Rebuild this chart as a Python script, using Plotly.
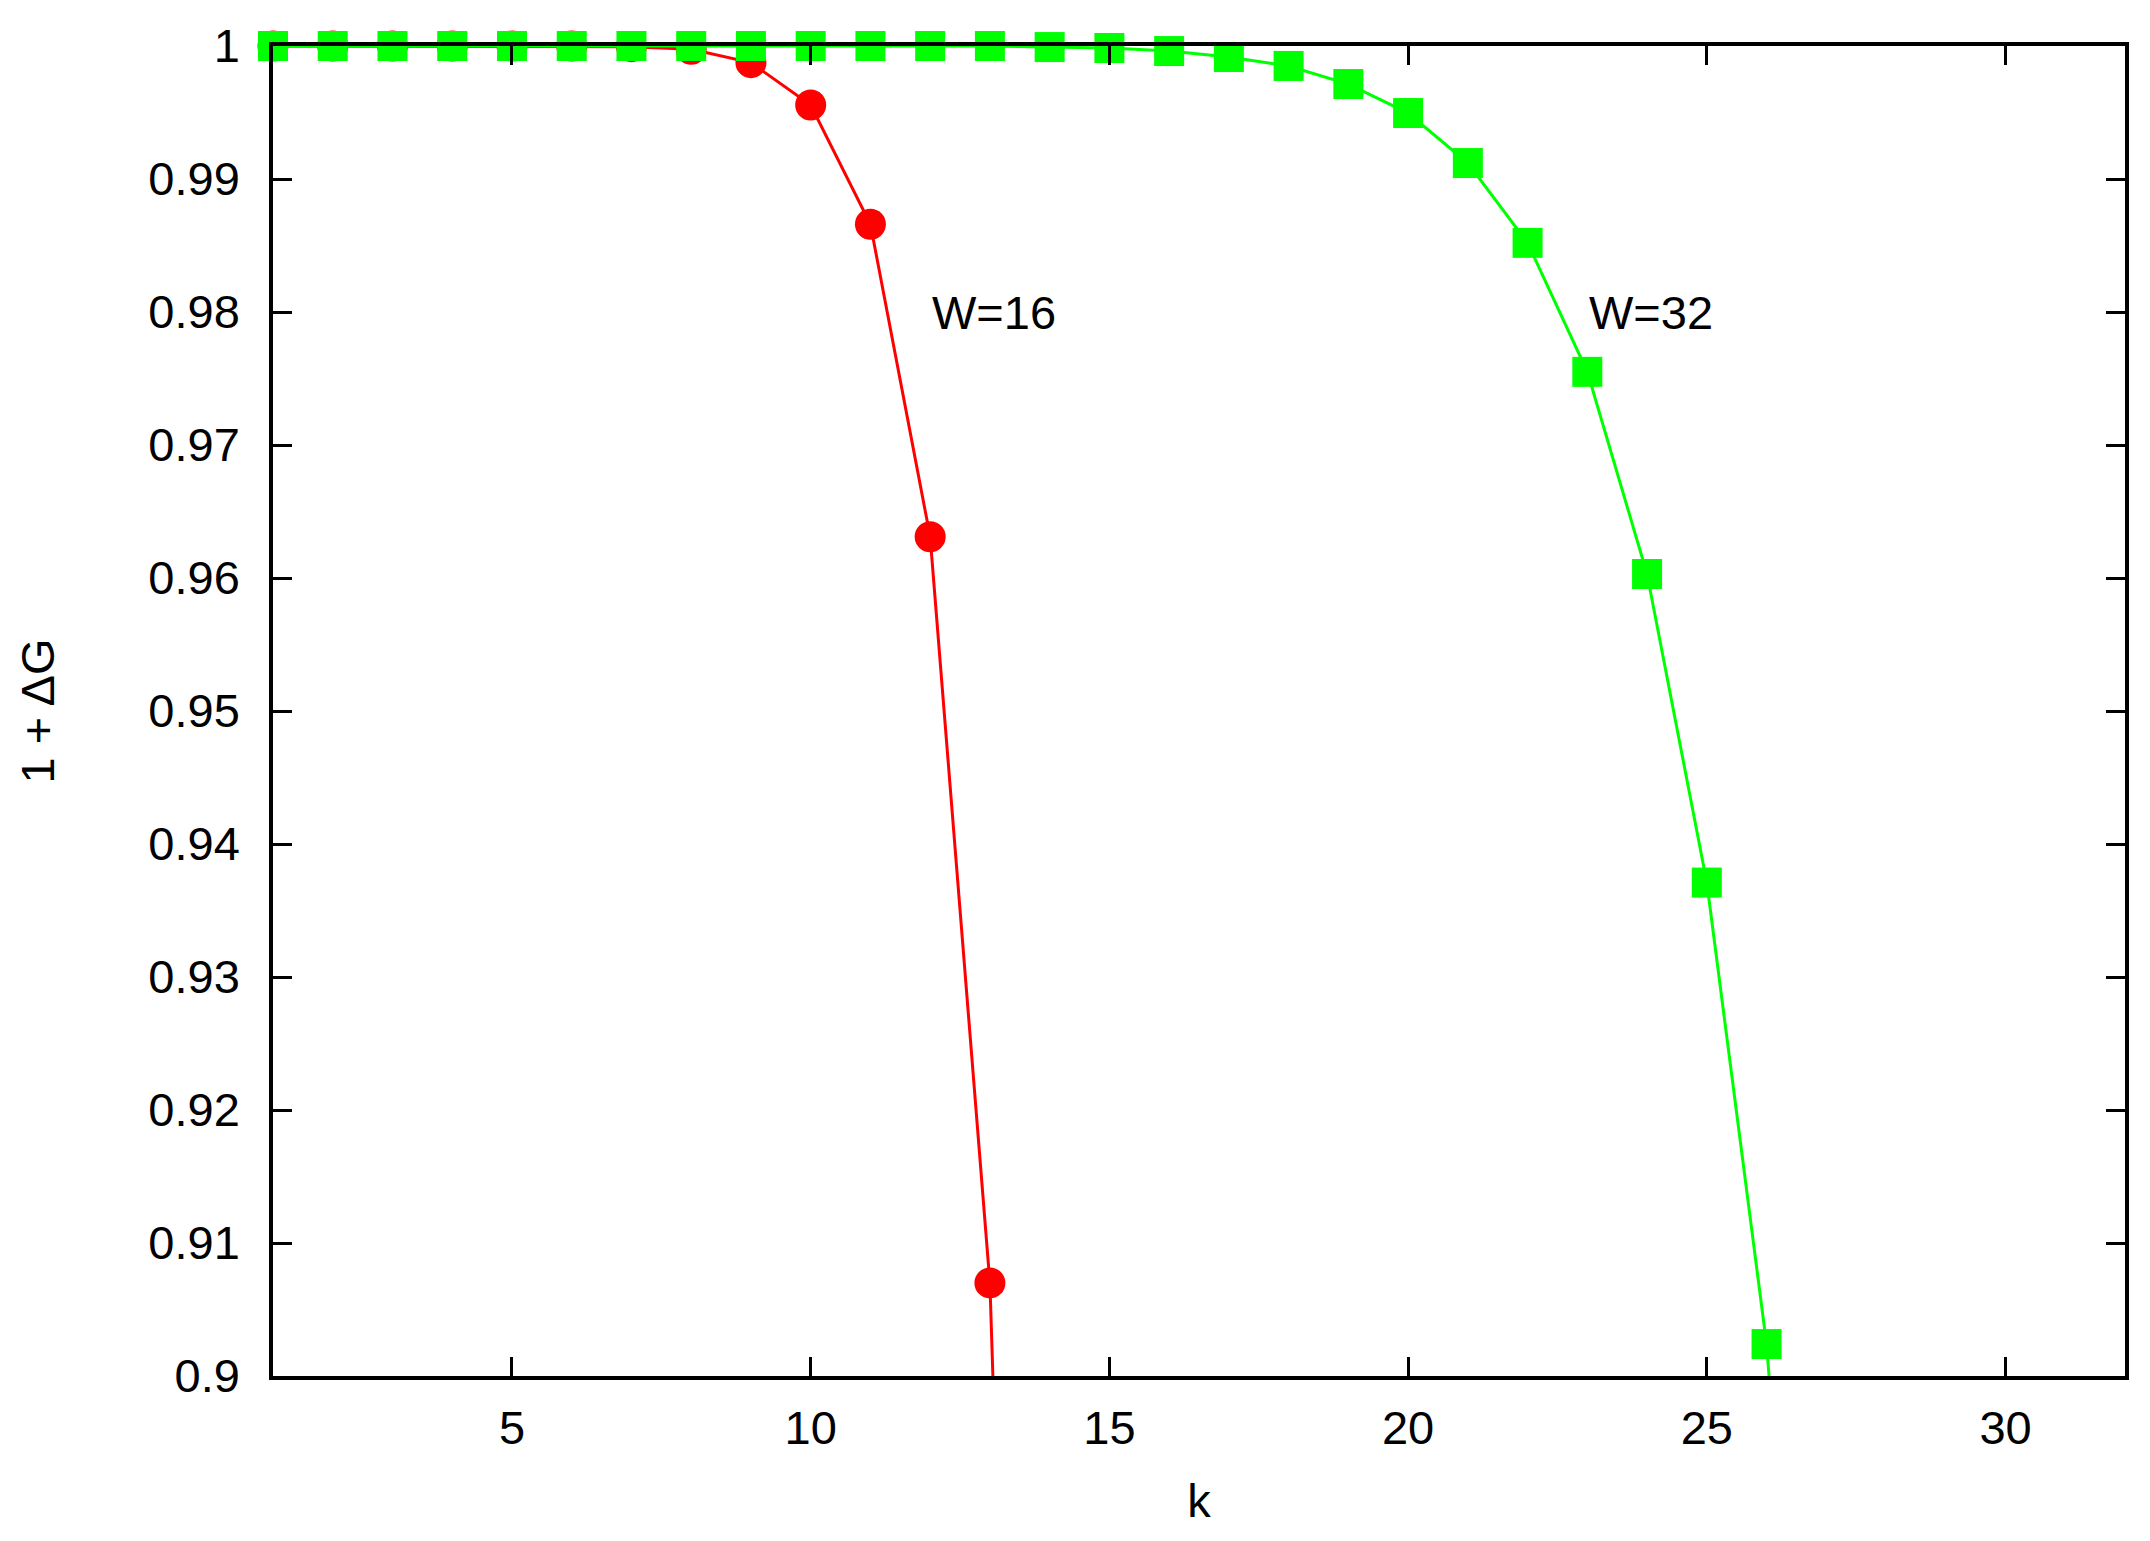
import plotly.graph_objects as go

# ---- data ----
k_w16 = [1, 2, 3, 4, 5, 6, 7, 8, 9, 10, 11, 12, 13, 14]
g_w16 = [1.0, 1.0, 1.0, 1.0, 1.0, 1.0, 0.99995, 0.99975, 0.99875, 0.99556,
         0.9866, 0.9631, 0.9070, 0.767]

k_w32 = list(range(1, 28))
g_w32 = [1.0, 1.0, 1.0, 1.0, 1.0, 1.0, 1.0, 1.0, 1.0, 1.0, 1.0, 1.0, 1.0,
         0.99992, 0.99985, 0.99962, 0.99917, 0.9985, 0.99714, 0.99496,
         0.9912, 0.9852, 0.9755, 0.9603, 0.9371, 0.9024, 0.845]

x_ticks = [5, 10, 15, 20, 25, 30]
y_ticks = [0.9, 0.91, 0.92, 0.93, 0.94, 0.95, 0.96, 0.97, 0.98, 0.99, 1.0]
y_ticktext = ["0.9", "0.91", "0.92", "0.93", "0.94", "0.95", "0.96",
              "0.97", "0.98", "0.99", "1"]

labels = [("W=16", 12.0, 0.98), ("W=32", 23.0, 0.98)]

Y_MIN, Y_MAX = 0.9, 1.0
FONT = "Liberation Sans, Arial, Helvetica, sans-serif"


def sizes(vals, s):
    return [s if Y_MIN <= v <= Y_MAX + 1e-9 else 0 for v in vals]


fig = go.Figure()
fig.add_trace(go.Scatter(
    x=k_w16, y=g_w16, mode="lines+markers", name="W=16",
    line=dict(color="#ff0000", width=3),
    marker=dict(symbol="circle", size=sizes(g_w16, 31), color="#ff0000",
                opacity=1, line=dict(width=0)),
    cliponaxis=False, showlegend=False,
))
fig.add_trace(go.Scatter(
    x=k_w32, y=g_w32, mode="lines+markers", name="W=32",
    line=dict(color="#00ff00", width=3),
    marker=dict(symbol="square", size=sizes(g_w32, 30), color="#00ff00",
                opacity=1, line=dict(width=0)),
    cliponaxis=False, showlegend=False,
))

for txt, x, y in labels:
    fig.add_annotation(x=x, y=y, text=txt, showarrow=False, xanchor="left",
                       yanchor="middle", font=dict(size=47, color="black", family=FONT))

axis_common = dict(
    showline=True, linecolor="black", linewidth=3.5, mirror="ticks",
    ticks="inside", ticklen=19, tickwidth=3, tickcolor="black",
    showgrid=False, zeroline=False,
    tickfont=dict(size=47, color="black", family=FONT),
)

fig.update_xaxes(
    range=[1, 32], tickvals=x_ticks, ticklabelstandoff=8,
    title=dict(text="k", font=dict(size=47, color="black", family=FONT), standoff=32),
    **axis_common,
)
fig.update_yaxes(
    range=[Y_MIN, Y_MAX], tickvals=y_ticks, ticktext=y_ticktext,
    ticklabelstandoff=20,
    title=dict(text="1 + ΔG", font=dict(size=47, color="black", family=FONT), standoff=80),
    **axis_common,
)

fig.update_layout(
    width=2150, height=1541,
    margin=dict(l=265, r=33, t=38, b=173),
    plot_bgcolor="white", paper_bgcolor="white",
    font=dict(family=FONT, color="black"),
)

fig.write_html("out.html")
